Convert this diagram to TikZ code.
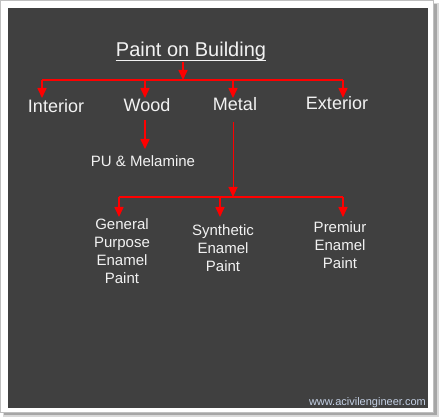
\documentclass[tikz,border=0pt]{standalone}
\usepackage{fontspec}
\setmainfont{Liberation Sans}
\usetikzlibrary{arrows.meta}
\definecolor{panel}{RGB}{64,64,64}
\definecolor{txt}{RGB}{242,242,242}
\definecolor{wm}{RGB}{196,208,228}
\definecolor{ln}{RGB}{255,0,0}
\begin{document}
\begin{tikzpicture}[x=1pt,y=-1pt,
  lbl/.style={text=txt,inner sep=0pt,font=\fontsize{18}{20}\selectfont,anchor=base},
  sub/.style={text=txt,inner sep=0pt,font=\fontsize{15}{18}\selectfont,align=center,anchor=north},
  conn/.style={draw=ln,line width=1.6pt},
  arr/.style={conn,-{Triangle[width=9pt,length=10pt]}}]
\useasboundingbox (0,0) rectangle (440,420);
\fill[white] (0,0) rectangle (440,420);
\fill[black!30] (4,4) rectangle (438,416);
\fill[black!15] (3,3) rectangle (439,417);
\fill[black!35] (4,4) rectangle (437,415);
\filldraw[fill=white,draw=black!25,line width=0.6pt] (0.3,0.3) rectangle (433,412);
\fill[panel] (8,8) rectangle (428,408);
% title
\node[text=txt,inner sep=0pt,font=\fontsize{20}{22}\selectfont,anchor=base] (title) at (191,57) {Paint on Building};
\draw[txt,line width=1.4pt] ([yshift=-3.5pt]title.base west) -- ([yshift=-3.5pt]title.base east);
% level 1
\coordinate (b1) at (183,80);
\coordinate (b1L) at (42,80);
\coordinate (b1R) at (343,80);
\coordinate (b1W) at (145,80);
\coordinate (b1M) at (233,80);
\draw[arr] (183,62) -- (b1);
\draw[conn] (b1L) -- (b1R);
\node[lbl] (interior) at (56,113) {Interior};
\node[lbl] (wood) at (147,112) {Wood};
\node[lbl] (metal) at (235,111) {Metal};
\node[lbl] (exterior) at (337,110) {Exterior};
\coordinate (tI) at (42,98);
\coordinate (tW) at (145,98);
\coordinate (tM) at (233,98);
\coordinate (tE) at (343,98);
\draw[arr] (b1L) -- (tI);
\draw[arr] (b1W) -- (tW);
\draw[arr] (b1M) -- (tM);
\draw[arr] (b1R) -- (tE);
% wood
\node[text=txt,inner sep=0pt,font=\fontsize{15}{18}\selectfont,anchor=base] (pu) at (143,167) {PU \& Melamine};
\coordinate (w0) at (145,120);
\coordinate (w1) at (145,149);
\draw[arr] (w0) -- (w1);
% metal
\coordinate (m0) at (233,122);
\coordinate (b2) at (233,197);
\coordinate (b2L) at (119,197);
\coordinate (b2S) at (220,197);
\coordinate (b2R) at (343,197);
\draw[draw=ln,line width=1pt,-{Triangle[width=9pt,length=10pt]}] (m0) -- (b2);
\draw[conn] (b2L) -- (b2R);
\coordinate (tG) at (119,217);
\coordinate (tS) at (220,217);
\coordinate (tP) at (343,217);
\draw[arr] (b2L) -- (tG);
\draw[arr] (b2S) -- (tS);
\draw[arr] (b2R) -- (tP);
\node[sub] (gen) at (122,218) {General\\Purpose\\Enamel\\Paint};
\node[sub] (syn) at (223,224) {Synthetic\\Enamel\\Paint};
\node[sub] (pre) at (340,221.5) {Premiur\\Enamel\\Paint};
% watermark
\node[text=wm,inner sep=0pt,font=\fontsize{11}{13}\selectfont,anchor=base east] (wmk) at (426,405) {www.acivilengineer.com};
\end{tikzpicture}
\end{document}
